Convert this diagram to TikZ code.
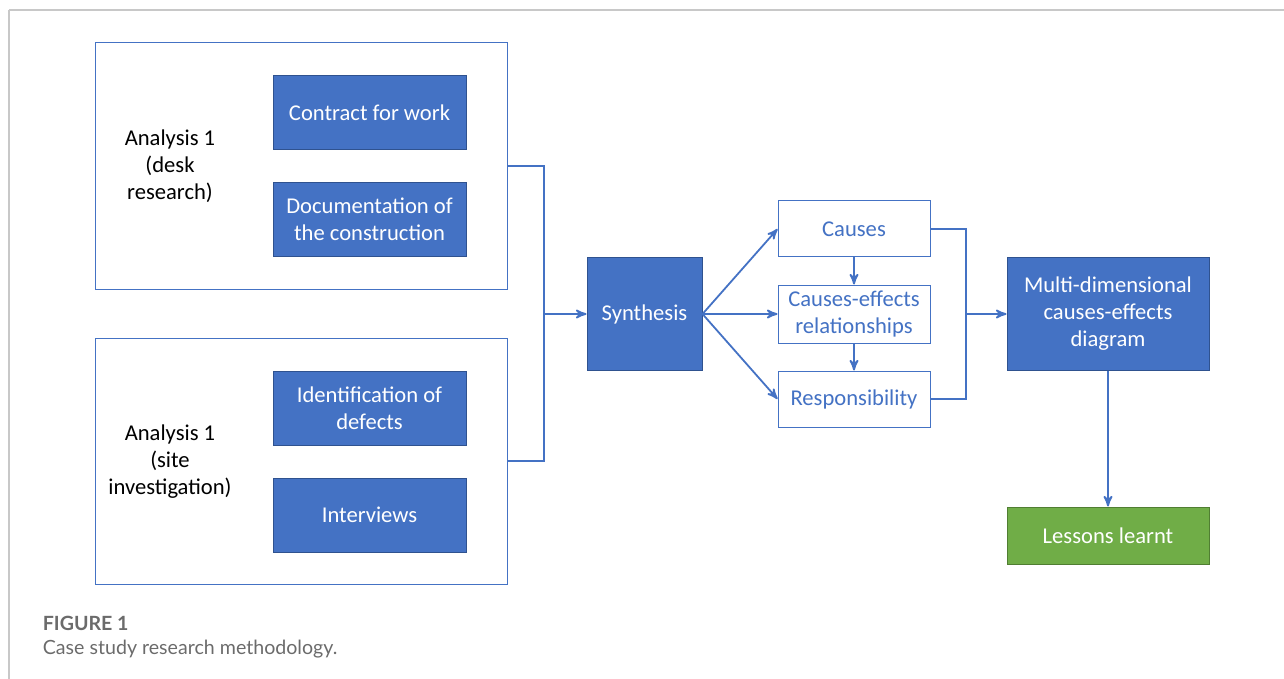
\documentclass[tikz,border=0pt]{standalone}
\usepackage{xcolor}
\usepackage{tikz}
\usetikzlibrary{arrows}
\usepackage{fontspec}
\setmainfont{Carlito}
\newfontfamily\capfont{Lato}

\definecolor{offblue}{HTML}{4472C4}
\definecolor{offblueline}{HTML}{2F528F}
\definecolor{offgreen}{HTML}{70AD47}
\definecolor{offgreenline}{HTML}{507E32}
\definecolor{framegray}{HTML}{C8C8C8}
\definecolor{capgray}{HTML}{6B6B6B}

\begin{document}
\begin{tikzpicture}[->,>=stealth',x=0.5pt,y=-0.5pt,line width=0.9pt,
                    draw=offblue,
                    every node/.style={font=\fontsize{11.3}{13.5}\selectfont,align=center},
                    solid/.style={draw=offblueline,line width=0.5pt,fill=offblue,text=white,
                                  minimum width=96.5pt,minimum height=37pt,inner sep=2pt},
                    hollow/.style={draw=offblue,line width=0.5pt,fill=white,text=offblue,
                                   minimum width=76pt,minimum height=28pt,inner sep=2pt},
                    group/.style={draw=offblue,line width=0.5pt,minimum width=206pt,
                                  minimum height=123pt,inner sep=0pt}]
  \useasboundingbox (0,0) rectangle (1284,679);

  \draw[-,framegray,line width=0.6pt] (9,10) -- (1284,10);
  \draw[-,framegray,line width=0.6pt] (9,10) -- (9,679);

  \node[group] (A1) at (301,166) {};
  \node[group] (A2) at (301,461) {};
  \node (A1txt) at (170,166) {Analysis 1\\(desk\\research)};
  \node (A2txt) at (170,462) {Analysis 1\\(site\\investigation)};

  \node[solid] (Contract) at (369.5,113)   {Contract for work};
  \node[solid] (Docu)     at (369.5,219.5) {Documentation of\\the construction};
  \node[solid] (Ident)    at (369.5,408)   {Identification of\\defects};
  \node[solid] (Interv)   at (369.5,515)   {Interviews};

  \node[solid,minimum width=57.5pt,minimum height=56pt] (Synth) at (644.5,314) {Synthesis};

  \node[hollow] (Causes) at (854,229) {Causes};
  \node[hollow,minimum height=29pt] (CauEff) at (854,314) {Causes-effects\\relationships};
  \node[hollow] (Resp)   at (854,399) {Responsibility};

  \node[solid,minimum width=101pt,minimum height=56pt] (Multi) at (1108,314)
       {Multi-dimensional\\causes-effects\\diagram};
  \node[solid,draw=offgreenline,fill=offgreen,minimum width=101pt,minimum height=28.5pt]
       (Lessons) at (1108,535.5) {Lessons learnt};

  \coordinate (joinL) at (544,314);
  \coordinate (joinR) at (966,314);

  \draw[-] (A1.east) -| (joinL) |- (A2.east);
  \draw (joinL) -- (Synth.west);

  \path (Synth.east) edge (Causes.west)
                     edge (CauEff.west)
                     edge (Resp.west)
        (Causes)     edge (CauEff)
        (CauEff)     edge (Resp);

  \draw[-] (Causes.east) -| (joinR) |- (Resp.east);
  \draw (joinR) -- (Multi.west);
  \draw (Multi) -- (Lessons);

  \node[anchor=base west,inner sep=0pt,text=capgray,font=\capfont\fontsize{9.8}{11}\selectfont\bfseries]
       (figno) at (42,630) {FIGURE 1};
  \node[anchor=base west,inner sep=0pt,text=capgray,font=\capfont\fontsize{9.8}{11}\selectfont]
       (figcap) at (42,654) {Case study research methodology.};
\end{tikzpicture}
\end{document}
